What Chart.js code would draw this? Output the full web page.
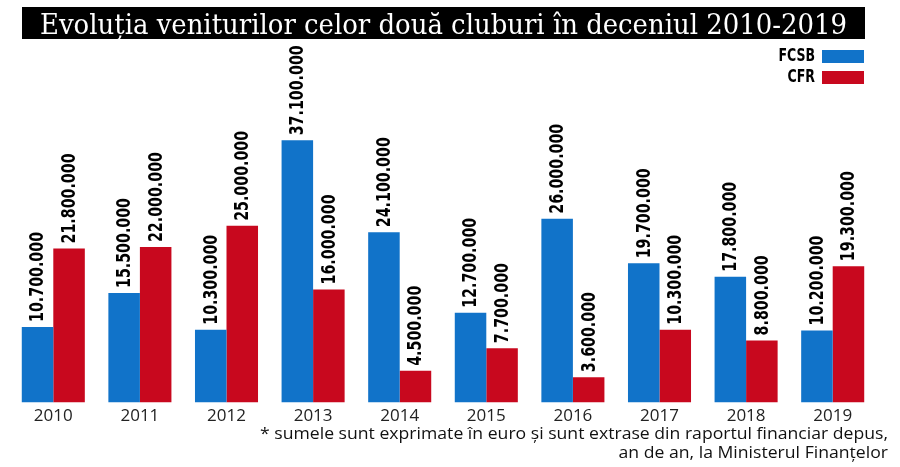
<!DOCTYPE html>
<html>
<head>
<meta charset="utf-8">
<script src="https://cdn.jsdelivr.net/npm/chart.js@4.4.1/dist/chart.umd.min.js"></script>
<style>
  html, body { margin: 0; padding: 0; background: #fff; }
  #wrap { width: 900px; height: 467px; position: relative; }
</style>
</head>
<body>
<div id="wrap"><canvas id="chart"></canvas></div>
<script>
// date
const ani = ['2010', '2011', '2012', '2013', '2014', '2015', '2016', '2017', '2018', '2019'];
const fcsb = [10700000, 15500000, 10300000, 37100000, 24100000, 12700000, 26000000, 19700000, 17800000, 10200000];
const cfr = [21800000, 22000000, 25000000, 16000000, 4500000, 7700000, 3600000, 10300000, 8800000, 19300000];

const titlu = 'Evoluția veniturilor celor două cluburi în deceniul 2010-2019';
const nota = [
  '* sumele sunt exprimate în euro și sunt extrase din raportul financiar depus,',
  'an de an, la Ministerul Finanțelor'
];

const ALBASTRU = '#1173c9';
const ROSU = '#c8081e';
const fontBold = '"DejaVu Sans Condensed", "Liberation Sans Narrow", sans-serif';

function formatNr(v) {
  return v.toString().replace(/\B(?=(\d{3})+(?!\d))/g, '.');
}

// scrie text comprimat pe orizontala ca sa intre intr-o latime data
function textLatime(ctx, text, x, y, latime) {
  const w = ctx.measureText(text).width;
  const s = latime / w;
  ctx.save();
  ctx.translate(x, y);
  ctx.scale(s, 1);
  ctx.fillText(text, 0, 0);
  ctx.restore();
  return s;
}

const decor = {
  id: 'decor',
  afterDraw(chart) {
    const ctx = chart.ctx;
    ctx.save();

    // bara de titlu
    ctx.fillStyle = '#000';
    ctx.fillRect(22, 7, 843, 32);
    ctx.fillStyle = '#fff';
    ctx.font = '28px "DejaVu Serif Condensed", "Liberation Serif", serif';
    ctx.textBaseline = 'alphabetic';
    ctx.textAlign = 'left';
    textLatime(ctx, titlu, 40, 34, 807);

    // legenda
    const leg = [['FCSB', ALBASTRU, 50], ['CFR', ROSU, 71]];
    ctx.font = 'bold 17px ' + fontBold;
    ctx.textBaseline = 'middle';
    leg.forEach(([nume, cul, y]) => {
      ctx.fillStyle = cul;
      ctx.fillRect(822, y, 42, 13);
      ctx.fillStyle = '#000';
      const w = ctx.measureText(nume).width * 0.82;
      textLatime(ctx, nume, 815 - w, y + 7, w);
    });

    // valorile de deasupra barelor
    ctx.font = 'bold 19px ' + fontBold;
    const sc = 90 / ctx.measureText('10.700.000').width;
    ctx.textAlign = 'left';
    ctx.textBaseline = 'middle';
    ctx.fillStyle = '#000';
    chart.data.datasets.forEach((ds, i) => {
      chart.getDatasetMeta(i).data.forEach((bar, j) => {
        ctx.save();
        ctx.translate(bar.x, bar.y - 5);
        ctx.rotate(-Math.PI / 2);
        ctx.scale(sc, 1);
        ctx.fillText(formatNr(ds.data[j]), 0, 1);
        ctx.restore();
      });
    });

    // nota de subsol
    ctx.font = '17px "Open Sans", sans-serif';
    ctx.fillStyle = '#111';
    ctx.textAlign = 'left';
    ctx.textBaseline = 'alphabetic';
    const s = 628 / ctx.measureText(nota[0]).width;
    textLatime(ctx, nota[0], 260, 439, 628);
    const w2 = ctx.measureText(nota[1]).width * s;
    textLatime(ctx, nota[1], 888 - w2, 458, w2);

    ctx.restore();
  }
};

new Chart(document.getElementById('chart'), {
  type: 'bar',
  data: {
    labels: ani,
    datasets: [
      { label: 'FCSB', data: fcsb, backgroundColor: ALBASTRU },
      { label: 'CFR', data: cfr, backgroundColor: ROSU }
    ]
  },
  options: {
    responsive: true,
    maintainAspectRatio: false,
    animation: false,
    layout: { padding: { top: 42, left: 10, right: 24, bottom: 38 } },
    datasets: {
      bar: { categoryPercentage: 0.728, barPercentage: 1.0 }
    },
    scales: {
      x: {
        grid: { display: false, drawTicks: false },
        border: { display: false },
        ticks: {
          padding: 3,
          color: '#222',
          font: { family: '"Open Sans", sans-serif', size: 17 }
        }
      },
      y: {
        display: false,
        min: 0,
        max: 51000000
      }
    },
    plugins: {
      legend: { display: false },
      tooltip: { enabled: false }
    }
  },
  plugins: [decor]
});
</script>
</body>
</html>
